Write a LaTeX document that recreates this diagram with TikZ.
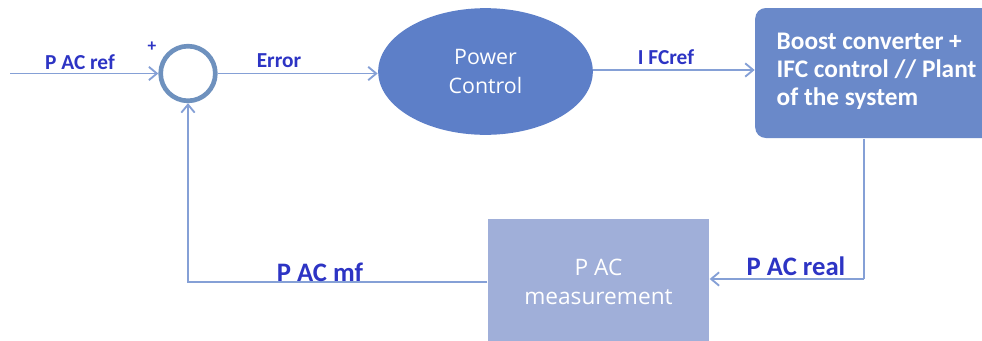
\documentclass[tikz,border=0pt]{standalone}
\usepackage{fontspec}
\setmainfont{Carlito}
\newfontfamily\osans{Open Sans}
\usetikzlibrary{shapes.geometric,arrows.meta}

\definecolor{flowline}{RGB}{133,160,214}
\definecolor{sumring}{RGB}{110,145,190}
\definecolor{ctrlfill}{RGB}{93,127,200}
\definecolor{plantfill}{RGB}{106,137,201}
\definecolor{measfill}{RGB}{160,175,217}
\definecolor{sigtext}{RGB}{45,52,196}

\tikzset{every picture/.style={line width=0.75pt}}
\tikzset{
  flow/.style={draw=flowline, line width=1.4pt, -{Straight Barb[length=6pt,width=10pt]}},
  wire/.style={draw=flowline, line width=1.4pt},
  sig/.style={text=sigtext, font=\fontsize{16}{18}\selectfont\bfseries, inner sep=0.75pt},
  bigsig/.style={text=sigtext, font=\fontsize{20}{22}\selectfont\bfseries, inner sep=0.75pt},
  sumcirc/.style={circle, draw=sumring, line width=3.5pt, minimum size=41pt, inner sep=0pt},
  ctrlnode/.style={ellipse, fill=ctrlfill, minimum width=161pt, minimum height=95pt, inner sep=0pt,
    text=white, font=\osans\fontsize{16}{22}\selectfont, align=center},
  plantnode/.style={rectangle, rounded corners=8pt, fill=plantfill, minimum width=182pt, minimum height=97.5pt,
    text=white, font=\fontsize{19}{21}\selectfont\bfseries, align=left, inner sep=0pt, text depth=6pt},
  measnode/.style={rectangle, fill=measfill, minimum width=166pt, minimum height=95pt, inner sep=0pt,
    text=white, font=\osans\fontsize{17}{22}\selectfont, align=center}
}

\begin{document}
\begin{tikzpicture}[x=0.75pt,y=0.75pt,yscale=-1,xscale=1]
\useasboundingbox (0,0) rectangle (982,340);

% blocks
\node [sumcirc] (sum) at (188,73.5) {};
\node [ctrlnode] (pc) at (485.5,71.5) {Power\\Control};
\node [plantnode] (plant) at (876.5,73) {Boost converter +\\IFC control // Plant\\of the system};
\node [measnode] (meas) at (598.5,282) {P AC\\measurement};

% free ends and bends
\coordinate (src) at (10,73.5);
\coordinate (tap) at (864,279);

% connectors
\draw [flow] (src) -- (sum.west);
\draw [flow] (sum.east) -- (pc.west |- sum.east);
\draw [flow] (pc.east |- 0,70) -- (plant.west |- 0,70);
\draw [wire] (plant.south -| tap) -- (tap);
\draw [flow] (tap) -- (meas.east |- tap);
\draw [flow] (meas.west) -| (sum.south);

% signal labels
\node [sig] (lref) at (80,62) {P AC ref};
\node [sig] (lerr) at (279,61) {Error};
\node [sig] (lifc) at (666,57) {I FCref};
\node [bigsig] (lreal) at (796,266) {P AC real};
\node [bigsig] (lmf) at (320,272) {P AC mf};
\node [text=sigtext, font=\fontsize{13}{13}\selectfont\bfseries] (plus) at (152,47) {+};

\end{tikzpicture}
\end{document}
